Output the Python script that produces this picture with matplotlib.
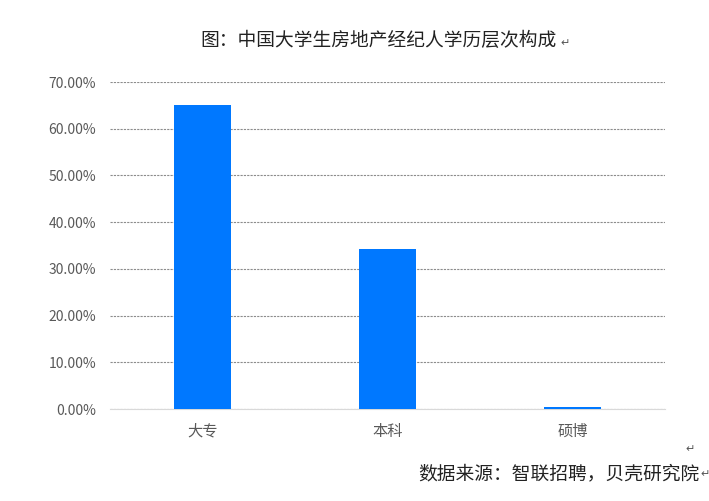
import matplotlib
matplotlib.use("Agg")
import matplotlib.pyplot as plt
from matplotlib.ticker import PercentFormatter

plt.rcParams['font.family'] = ['Noto Sans CJK SC', 'DejaVu Sans']

# --- Données ---
categories = ["大专", "本科", "硕博"]
valeurs = [65.0, 34.3, 0.5]
yticks = [0, 10, 20, 30, 40, 50, 60, 70]

fig = plt.figure(figsize=(7.09, 5.01), dpi=100)
ax = fig.add_axes([0.155, 0.1836, 0.783, 0.6527])

ax.bar(categories, valeurs, width=0.31, color="#0078FF", zorder=3)
ax.set_xlim(-0.5, 2.5)
ax.set_ylim(0, 70)
ax.set_yticks(yticks)
ax.yaxis.set_major_formatter(PercentFormatter(decimals=2))
ax.grid(axis="y", color="#8c8c8c", linestyle=(0, (2, 1)), linewidth=0.8, zorder=0)

for s in ["top", "right", "left"]:
    ax.spines[s].set_visible(False)
ax.spines["bottom"].set_color("#d9d9d9")
ax.tick_params(axis="both", length=0, colors="#595959")
ax.tick_params(axis="y", labelsize=10, pad=10)
ax.tick_params(axis="x", labelsize=11, pad=10)

# --- Titre et source ---
fig.text(0.282, 0.92, "图：中国大学生房地产经纪人学历层次构成", ha="left", va="center",
         fontsize=13.5, color="#222222")
fig.text(0.797, 0.913, "↵", ha="center", va="center", fontsize=8, color="#555555",
         family=["DejaVu Sans"])
fig.text(0.973, 0.104, "↵", ha="center", va="center", fontsize=8, color="#555555",
         family=["DejaVu Sans"])
fig.text(0.59, 0.054, "数据来源：智联招聘，贝壳研究院", ha="left", va="center",
         fontsize=13.5, color="#222222")
fig.text(0.994, 0.054, "↵", ha="center", va="center", fontsize=8, color="#555555",
         family=["DejaVu Sans"])

fig.savefig("out.png", dpi=100)
